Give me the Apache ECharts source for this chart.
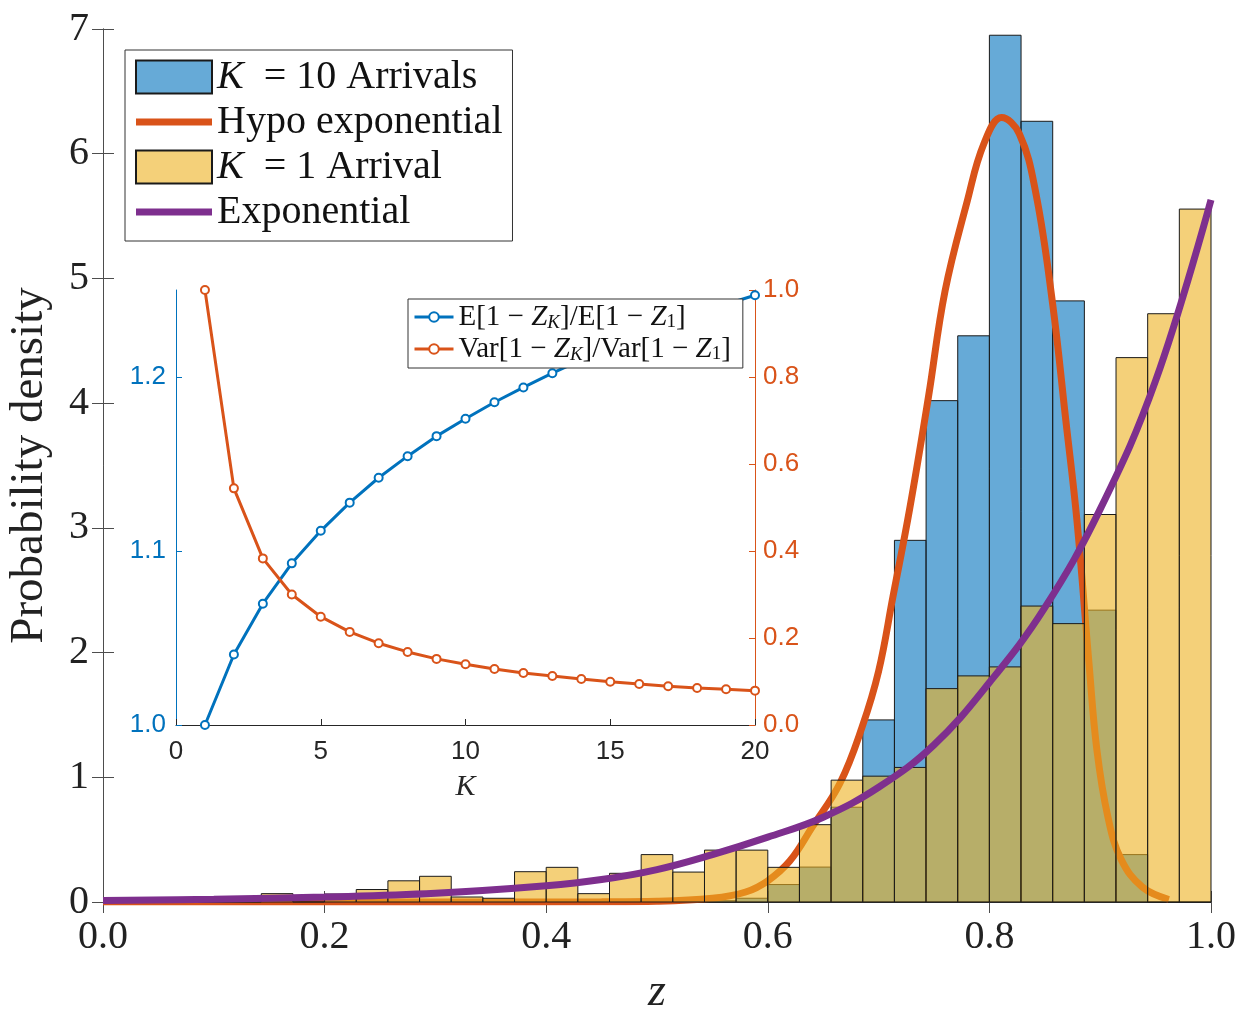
<!DOCTYPE html>
<html>
<head>
<meta charset="utf-8">
<script src="https://cdn.jsdelivr.net/npm/echarts@6/dist/echarts.min.js"></script>
<style>
  html, body { margin: 0; padding: 0; background: #fff; }
  #chart { width: 1245px; height: 1009px; }
</style>
</head>
<body>
<div id="chart"></div>
<script>
// histogram bins over z in [0, 1]
var nBins = 35;
// K = 10 arrivals, density per bin
var k10Density = [0, 0, 0, 0, 0, 0, 0, 0, 0, 0, 0, 0, 0, 0, 0, 0, 0, 0, 0,
  0.01, 0.03, 0.14, 0.28, 0.76, 1.46, 2.90, 4.02, 4.54, 6.95, 6.26, 4.82, 2.34, 0.38, 0, 0];
// K = 1 arrival, density per bin
var k1Density = [0, 0, 0, 0, 0, 0.067, 0, 0.064, 0.10, 0.17, 0.206, 0.04, 0.03, 0.243, 0.278,
  0.067, 0.23, 0.38, 0.24, 0.416, 0.416, 0.278, 0.62, 0.977, 1.009, 1.079, 1.711, 1.813,
  1.885, 2.373, 2.232, 3.107, 4.365, 4.717, 5.556];

// fitted curves: [z, density]
var hypoCurve = [[0, 0], [0.3, 0], [0.45, 0.002], [0.5, 0.006], [0.55, 0.03], [0.58, 0.08],
  [0.6, 0.17], [0.62, 0.33], [0.64, 0.6], [0.665, 0.95], [0.685, 1.4], [0.7, 1.85],
  [0.713, 2.45], [0.728, 3.15], [0.745, 4.05], [0.76, 4.9], [0.78, 5.62], [0.795, 6.08],
  [0.811, 6.29], [0.827, 6.16], [0.842, 5.68], [0.857, 4.8], [0.869, 3.86], [0.879, 3.06],
  [0.89, 1.9], [0.897, 1.22], [0.907, 0.68], [0.919, 0.34], [0.938, 0.12], [0.962, 0.02]];
var expCurve = [[0, 0.012], [0.1, 0.022], [0.2, 0.04], [0.3, 0.07], [0.4, 0.13], [0.45, 0.18],
  [0.5, 0.26], [0.55, 0.38], [0.6, 0.52], [0.65, 0.68], [0.7, 0.92], [0.75, 1.26],
  [0.8, 1.76], [0.85, 2.36], [0.9, 3.15], [0.95, 4.18], [1.0, 5.63]];

// inset
var insetK = [1, 2, 3, 4, 5, 6, 7, 8, 9, 10, 11, 12, 13, 14, 15, 16, 17, 18, 19, 20];
var meanRatio = [1.0, 1.0405, 1.0697, 1.0929, 1.1116, 1.1278, 1.1421, 1.1545, 1.166, 1.176,
  1.1855, 1.194, 1.2022, 1.2098, 1.217, 1.2238, 1.2302, 1.2362, 1.2418, 1.247];
var varRatio = [1.0, 0.544, 0.383, 0.300, 0.249, 0.214, 0.188, 0.168, 0.152, 0.1395,
  0.1287, 0.1195, 0.1126, 0.1057, 0.0996, 0.0943, 0.089, 0.085, 0.082, 0.079];
var insetLeftTicks = [1.0, 1.1, 1.2];

var SERIF = "'Liberation Serif', 'DejaVu Serif', serif";
var SANS = "'Liberation Sans', Arial, sans-serif";
var BLUE = '#0072BD', ORANGE = '#D95319', PURPLE = '#7E2F8E';
var FRAME = '#4d4d4d';
// thick line swatch for the curves in the main legend
var LINE_ICON = 'path://M0,0L76,0L76,7L0,7Z';

function binRows(values) {
  return values.map(function (v, k) { return [k / nBins, (k + 1) / nBins, v]; });
}

function histRender(fill) {
  return function (params, api) {
    var p0 = api.coord([api.value(0), 0]);
    var p1 = api.coord([api.value(1), api.value(2)]);
    return {
      type: 'rect',
      shape: { x: p0[0], y: p1[1], width: p1[0] - p0[0], height: p0[1] - p1[1] },
      style: { fill: fill, stroke: '#1a1a1a', lineWidth: 1 }
    };
  };
}

var legendNames = {
  K10: '{i|K}{r|  = 10 Arrivals}',
  Hypo: '{r|Hypo exponential}',
  K1: '{i|K}{r|  = 1 Arrival}',
  Exp: '{r|Exponential}'
};
var insetNames = {
  E: '{r|E[1 − }{i|Z}{sk|K}{r|]/E[1 − }{i|Z}{s|1}{r|]}',
  V: '{r|Var[1 − }{i|Z}{sk|K}{r|]/Var[1 − }{i|Z}{s|1}{r|]}'
};

var mainTick = { show: true, inside: true, length: 11, lineStyle: { color: FRAME, width: 1 } };

var option = {
  animation: false,
  backgroundColor: '#fff',
  grid: [
    { left: 103, right: 34, top: 29, bottom: 107, outerBoundsMode: 'none', containLabel: false },
    { left: 176, right: 490, top: 290, bottom: 284, outerBoundsMode: 'none', containLabel: false }
  ],
  xAxis: [
    {
      type: 'value', gridIndex: 0, min: 0, max: 1, interval: 0.2,
      axisLine: { show: true, onZero: false, lineStyle: { color: FRAME, width: 1 } },
      axisTick: mainTick, splitLine: { show: false },
      axisLabel: { margin: 15, color: '#222', fontFamily: SERIF, fontSize: 40,
        formatter: function (v) { return v.toFixed(1); } },
      name: 'z', nameLocation: 'middle', nameGap: 68,
      nameTextStyle: { fontFamily: SERIF, fontStyle: 'italic', fontSize: 46, color: '#222' }
    },
    {
      type: 'value', gridIndex: 0, position: 'top', min: 0, max: 1, interval: 0.2,
      axisLine: { show: true, lineStyle: { color: FRAME, width: 1 } },
      axisTick: mainTick, axisLabel: { show: false }, splitLine: { show: false }
    },
    {
      type: 'value', gridIndex: 1, min: 0, max: 20, interval: 5,
      axisLine: { show: true, onZero: false, lineStyle: { color: '#262626', width: 1 } },
      axisTick: { show: true, inside: true, length: 6, lineStyle: { color: '#262626' } },
      splitLine: { show: false },
      axisLabel: { margin: 14, color: '#262626', fontFamily: SANS, fontSize: 26 },
      name: 'K', nameLocation: 'middle', nameGap: 47,
      nameTextStyle: { fontFamily: SERIF, fontStyle: 'italic', fontSize: 30, color: '#262626' }
    }
  ],
  yAxis: [
    {
      type: 'value', gridIndex: 0, min: 0, max: 7, interval: 1,
      axisLine: { show: true, onZero: false, lineStyle: { color: FRAME, width: 1 } },
      axisTick: mainTick, splitLine: { show: false },
      axisLabel: { margin: 14, color: '#222', fontFamily: SERIF, fontSize: 40 },
      name: 'Probability density', nameLocation: 'middle', nameGap: 50,
      nameTextStyle: { fontFamily: SERIF, fontSize: 47, color: '#222' }
    },
    {
      type: 'value', gridIndex: 0, position: 'right', min: 0, max: 7, interval: 1,
      axisLine: { show: true, lineStyle: { color: FRAME, width: 1 } },
      axisTick: mainTick, axisLabel: { show: false }, splitLine: { show: false }
    },
    {
      type: 'value', gridIndex: 1, min: 1.0, max: 1.25, interval: 0.1,
      axisLine: { show: true, onZero: false, lineStyle: { color: BLUE, width: 1 } },
      axisTick: { show: true, inside: true, length: 6, customValues: insetLeftTicks,
        lineStyle: { color: BLUE } },
      splitLine: { show: false },
      axisLabel: { margin: 10, color: BLUE, fontFamily: SANS, fontSize: 26,
        customValues: insetLeftTicks, formatter: function (v) { return v.toFixed(1); } }
    },
    {
      type: 'value', gridIndex: 1, position: 'right', min: 0, max: 1.0, interval: 0.2,
      axisLine: { show: true, onZero: false, lineStyle: { color: ORANGE, width: 1 } },
      axisTick: { show: true, inside: true, length: 6, lineStyle: { color: ORANGE } },
      splitLine: { show: false },
      axisLabel: { margin: 8, color: ORANGE, fontFamily: SANS, fontSize: 26,
        formatter: function (v) { return v.toFixed(1); } }
    }
  ],
  legend: [
    {
      orient: 'vertical', left: 125, top: 50, selectedMode: false,
      itemWidth: 76, itemHeight: 33, itemGap: 5, padding: [7, 10, 9, 10],
      backgroundColor: '#fff', borderColor: '#333', borderWidth: 1,
      data: [{ name: 'K10', icon: 'rect' }, { name: 'Hypo', icon: LINE_ICON },
        { name: 'K1', icon: 'rect' }, { name: 'Exp', icon: LINE_ICON }],
      formatter: function (name) { return legendNames[name]; },
      textStyle: {
        fontFamily: SERIF, fontSize: 40, color: '#111',
        rich: {
          i: { fontFamily: SERIF, fontSize: 40, fontStyle: 'italic', color: '#111' },
          r: { fontFamily: SERIF, fontSize: 40, color: '#111' }
        }
      }
    },
    {
      orient: 'vertical', left: 408, top: 299, selectedMode: false,
      itemWidth: 39, itemHeight: 12, itemGap: 3, padding: [4, 12, 4, 5],
      backgroundColor: '#fff', borderColor: '#333', borderWidth: 1,
      lineStyle: { width: 3 },
      data: ['E', 'V'],
      formatter: function (name) { return insetNames[name]; },
      textStyle: {
        fontFamily: SERIF, fontSize: 29, color: '#111',
        rich: {
          r: { fontFamily: SERIF, fontSize: 29, lineHeight: 30, verticalAlign: 'bottom', color: '#111' },
          i: { fontFamily: SERIF, fontSize: 29, fontStyle: 'italic', lineHeight: 30, verticalAlign: 'bottom', color: '#111' },
          sk: { fontFamily: SERIF, fontSize: 19, fontStyle: 'italic', lineHeight: 22, verticalAlign: 'bottom', color: '#111' },
          s: { fontFamily: SERIF, fontSize: 19, lineHeight: 22, verticalAlign: 'bottom', color: '#111' }
        }
      }
    }
  ],
  series: [
    {
      name: 'K10', type: 'custom', xAxisIndex: 0, yAxisIndex: 0, z: 2,
      itemStyle: { color: 'rgba(0,114,189,0.6)', borderColor: '#1a1a1a', borderWidth: 1 },
      renderItem: histRender('rgba(0,114,189,0.6)'),
      encode: { x: [0, 1], y: 2 },
      data: binRows(k10Density)
    },
    {
      name: 'Hypo', type: 'line', xAxisIndex: 0, yAxisIndex: 0, z: 3,
      smooth: 0.4, showSymbol: false, symbol: 'none',
      lineStyle: { color: ORANGE, width: 7 }, itemStyle: { color: ORANGE },
      data: hypoCurve
    },
    {
      name: 'K1', type: 'custom', xAxisIndex: 0, yAxisIndex: 0, z: 4,
      itemStyle: { color: 'rgba(237,177,32,0.6)', borderColor: '#1a1a1a', borderWidth: 1 },
      renderItem: histRender('rgba(237,177,32,0.6)'),
      encode: { x: [0, 1], y: 2 },
      data: binRows(k1Density)
    },
    {
      name: 'Exp', type: 'line', xAxisIndex: 0, yAxisIndex: 0, z: 5,
      smooth: 0.4, showSymbol: false, symbol: 'none',
      lineStyle: { color: PURPLE, width: 7 }, itemStyle: { color: PURPLE },
      data: expCurve
    },
    {
      name: 'E', type: 'line', xAxisIndex: 2, yAxisIndex: 2, z: 3,
      symbol: 'emptyCircle', symbolSize: 8, showAllSymbol: true,
      lineStyle: { color: BLUE, width: 3 }, itemStyle: { color: BLUE, borderWidth: 1.5 },
      data: insetK.map(function (k, i) { return [k, meanRatio[i]]; })
    },
    {
      name: 'V', type: 'line', xAxisIndex: 2, yAxisIndex: 3, z: 3,
      symbol: 'emptyCircle', symbolSize: 8, showAllSymbol: true,
      lineStyle: { color: ORANGE, width: 3 }, itemStyle: { color: ORANGE, borderWidth: 1.5 },
      data: insetK.map(function (k, i) { return [k, varRatio[i]]; })
    }
  ]
};

var chart = echarts.init(document.getElementById('chart'), null, { renderer: 'canvas' });
chart.setOption(option);
</script>
</body>
</html>
